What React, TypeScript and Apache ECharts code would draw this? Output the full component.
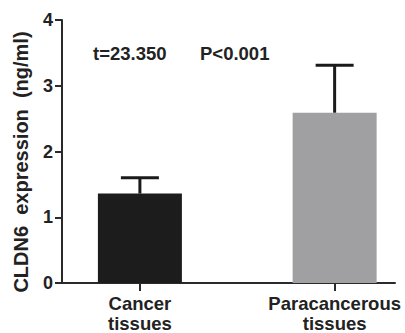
import React, { useEffect, useRef } from "react";
import * as echarts from "echarts";

const categories = ["Cancer\ntissues", "Paracancerous\ntissues"];
const means = [1.36, 2.59];
const errors = [0.24, 0.72];
const barColors = ["#1c1c1c", "#a0a0a3"];
const yTicks = [0, 1, 2, 3, 4];
const statText = ["t=23.350", "P<0.001"];
const yName = "CLDN6  expression  (ng/ml)";

export default function App() {
  const ref = useRef<HTMLDivElement>(null);
  useEffect(() => {
    const chart = echarts.init(ref.current!, null, { renderer: "svg" });
    const font = "'Liberation Sans', Arial, sans-serif";
    chart.setOption({
      animation: false,
      grid: { left: 62, right: 10, top: 20, bottom: 46 },
      xAxis: {
        type: "value",
        min: -0.4,
        max: 1.31,
        splitLine: { show: false },
        axisLine: { show: true, onZero: false, lineStyle: { color: "#2a2a2a", width: 2 } },
        axisTick: { show: true, customValues: [0, 1], length: 8, lineStyle: { color: "#2a2a2a", width: 2 } },
        axisLabel: {
          customValues: [0, 1],
          formatter: (v: number) => categories[Math.round(v)] ?? "",
          fontFamily: font,
          fontWeight: "bold",
          fontSize: 18.5,
          lineHeight: 20,
          color: "#222",
          margin: 10,
        },
      },
      yAxis: {
        type: "value",
        min: yTicks[0],
        max: yTicks[yTicks.length - 1],
        interval: 1,
        splitLine: { show: false },
        axisLine: { show: true, onZero: false, lineStyle: { color: "#2a2a2a", width: 2 } },
        axisTick: { show: true, length: 7, lineStyle: { color: "#2a2a2a", width: 2 } },
        axisLabel: {
          fontFamily: font,
          fontWeight: "bold",
          fontSize: 18,
          color: "#222",
          margin: 9,
        },
      },
      series: [
        {
          type: "bar",
          barWidth: 84,
          data: means.map((m, i) => ({ value: [i, m], itemStyle: { color: barColors[i] } })),
        },
        {
          type: "custom",
          data: means.map((m, i) => [i, m, errors[i]]),
          renderItem: (params: any, api: any) => {
            const x = api.value(0);
            const y = api.value(1);
            const e = api.value(2);
            const base = api.coord([x, y]);
            const top = api.coord([x, y + e]);
            const style = { stroke: "#1a1a1a", lineWidth: 3 };
            return {
              type: "group",
              children: [
                { type: "line", shape: { x1: base[0], y1: base[1], x2: top[0], y2: top[1] }, style },
                { type: "line", shape: { x1: top[0] - 19, y1: top[1], x2: top[0] + 19, y2: top[1] }, style },
              ],
            };
          },
          z: 3,
        },
      ],
      graphic: [
        {
          type: "text",
          left: 93,
          top: 44,
          style: { text: statText[0], font: `bold 18.5px ${font}`, fill: "#222" },
        },
        {
          type: "text",
          left: 200,
          top: 44,
          style: { text: statText[1], font: `bold 18.5px ${font}`, fill: "#222" },
        },
        {
          type: "text",
          x: 21,
          y: 162,
          rotation: Math.PI / 2,
          style: {
            text: yName,
            font: `bold 20px ${font}`,
            fill: "#222",
            align: "center",
            verticalAlign: "middle",
          },
        },
      ],
    });
    return () => chart.dispose();
  }, []);
  return <div ref={ref} style={{ position: "fixed", left: 0, top: 0, width: 405, height: 333, background: "#fff" }} />;
}
